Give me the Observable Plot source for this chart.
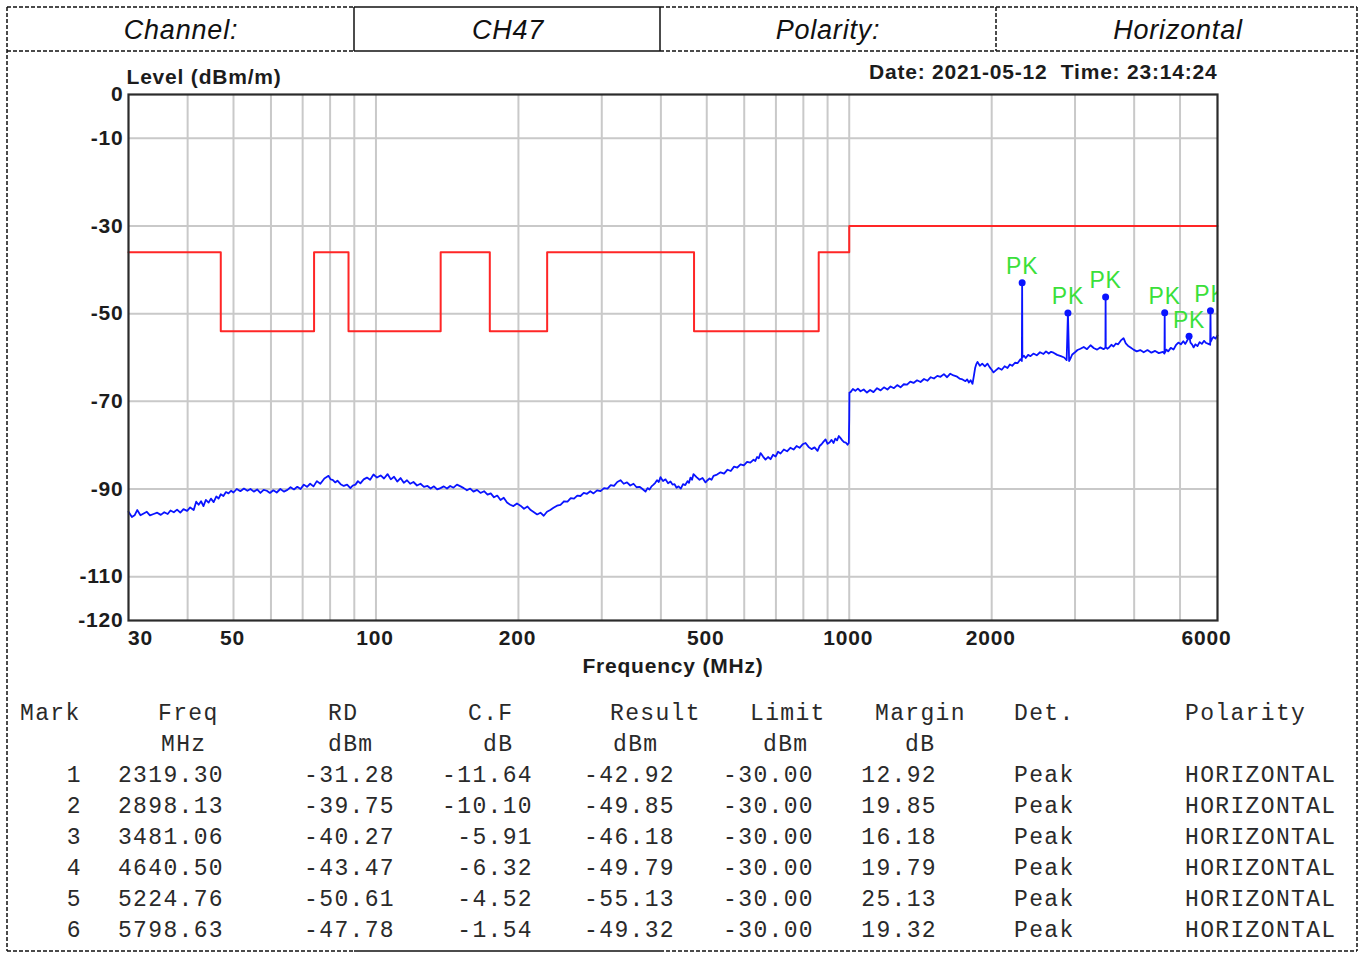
<!DOCTYPE html>
<html><head><meta charset="utf-8">
<script src="https://cdn.jsdelivr.net/npm/d3@7"></script>
<script src="https://cdn.jsdelivr.net/npm/@observablehq/plot@0.6"></script>
<style>
html,body{margin:0;padding:0;overflow:hidden;background:#fff;}
#page{position:relative;width:1362px;height:956px;overflow:hidden;background:#fff;}
#chart{position:absolute;left:0;top:0;}
#deco{position:absolute;left:0;top:0;}
</style></head>
<body><div id="page"><div id="chart"></div><svg id="deco" width="1362" height="956"></svg></div>
<script>
// ---------- data ----------
const headerCells = ["Channel:", "CH47", "Polarity:", "Horizontal"];
const chartTitleY = "Level (dBm/m)";
const chartTitleX = "Frequency (MHz)";
const chartStamp = "Date: 2021-05-12\u00a0 Time: 23:14:24";

const xTickLabels = [30, 50, 100, 200, 500, 1000, 2000, 6000];
const xGrid = [40, 50, 60, 70, 80, 90, 100, 200, 300, 400, 500, 600, 700, 800, 900, 1000, 2000, 3000, 4000, 5000];
const yTickLabels = [0, -10, -30, -50, -70, -90, -110, -120];
const yGrid = [-10, -30, -50, -70, -90, -110];

const limitFreq  = [30, 47, 74, 87.5, 137, 174, 230, 470, 862, 1000, 6000];
const limitLevel = [-36, -54, -36, -54, -36, -54, -36, -54, -36, -30, -30];

// measured trace, [frequency MHz, level dBm/m]
const tracePoints = [
  [30,-95.2],[30.5,-96.4],[30.9,-96.0],[31.3,-94.8],[31.8,-96.0],[32.3,-95.6],[32.8,-95.2],[33.3,-96.0],[33.9,-95.7],[34.5,-95.4],
  [35.1,-95.9],[35.7,-95.3],[36.3,-95.7],[36.8,-94.9],[37.4,-95.3],[38.0,-94.7],[38.6,-95.4],[39.2,-94.6],[39.9,-95.0],[40.5,-94.2],
  [41.2,-94.8],[41.7,-92.9],[42.2,-93.6],[42.7,-92.8],[43.2,-93.9],[43.7,-92.5],[44.3,-93.1],[44.8,-92.2],[45.4,-93.0],[46.0,-91.7],
  [46.5,-92.2],[47.0,-91.2],[47.6,-91.6],[48.2,-90.7],[48.8,-91.0],[49.4,-90.4],[50.0,-90.8],[50.8,-90.0],[51.7,-90.5],[52.6,-89.9],
  [53.5,-90.4],[54.3,-90.0],[55.2,-90.6],[56.1,-90.1],[57.0,-90.9],[57.9,-90.2],[58.8,-90.4],[59.7,-90.9],[60.7,-90.3],[61.7,-90.8],
  [62.8,-90.0],[63.9,-90.6],[65.0,-90.2],[66.0,-89.6],[67.1,-90.1],[68.2,-89.5],[69.3,-90.0],[70.4,-89.0],[71.5,-89.5],[72.6,-88.8],
  [73.8,-89.4],[75.0,-88.2],[76.3,-88.8],[77.8,-87.6],[79.4,-87.0],[80.2,-87.8],[81.0,-87.9],[82.0,-88.5],[82.9,-88.1],[84.2,-88.9],
  [85.5,-89.3],[86.9,-89.0],[88.3,-89.8],[89.4,-89.2],[90.5,-89.0],[91.6,-88.2],[92.7,-88.7],[94.2,-87.8],[95.7,-87.4],[97.2,-87.9],
  [98.8,-86.7],[100.5,-87.4],[102.3,-86.9],[104.0,-87.6],[105.8,-86.6],[107.5,-87.8],[109.2,-87.2],[110.9,-88.3],[112.7,-87.5],[114.5,-88.6],
  [116.3,-88.0],[118.1,-88.8],[120.0,-88.4],[122.1,-89.2],[124.2,-88.8],[126.3,-89.5],[128.5,-89.3],[130.5,-89.9],[132.6,-89.4],[134.7,-90.1],
  [136.9,-89.8],[139.1,-89.4],[141.3,-89.9],[143.5,-89.3],[145.8,-89.7],[148.3,-89.0],[150.9,-89.4],[153.3,-89.8],[155.7,-90.3],[158.2,-89.9],
  [160.7,-90.6],[163.5,-90.2],[166.3,-90.9],[169.2,-90.5],[172.1,-91.3],[174.8,-91.0],[177.6,-91.9],[180.4,-91.5],[183.3,-92.5],[186.2,-92.0],
  [189.2,-93.1],[192.2,-93.6],[195.2,-93.9],[198.6,-93.3],[202.0,-93.8],[205.5,-94.5],[209.0,-94.0],[212.3,-94.8],[215.7,-95.3],[219.1,-95.8],
  [222.6,-95.4],[226.2,-96.1],[229.8,-95.2],[233.5,-94.8],[237.2,-94.3],[241.3,-93.8],[245.4,-93.6],[249.6,-92.8],[253.9,-92.9],[258.0,-92.1],
  [262.1,-92.2],[266.3,-91.5],[270.5,-91.6],[274.8,-90.9],[279.2,-91.1],[283.7,-90.5],[288.2,-91.0],[293.2,-90.3],[298.2,-90.5],[303.3,-89.8],
  [308.5,-89.9],[313.4,-89.1],[318.4,-89.3],[323.5,-88.4],[328.6,-88.0],[333.8,-88.8],[339.2,-88.5],[344.6,-89.2],[350.1,-88.8],[355.3,-89.6],
  [360.5,-89.5],[365.8,-90.0],[371.2,-90.6],[374.8,-89.8],[378.5,-90.1],[382.2,-89.4],[385.9,-89.0],[389.2,-88.6],[392.5,-88.0],[395.9,-88.4],
  [399.3,-87.3],[404.2,-88.2],[409.2,-87.8],[414.2,-88.7],[419.2,-88.3],[423.3,-89.0],[427.5,-88.9],[431.7,-89.7],[435.9,-89.4],[440.7,-89.9],
  [445.5,-88.9],[450.4,-89.1],[455.3,-88.2],[458.6,-88.6],[462.0,-87.4],[465.4,-87.9],[468.8,-86.6],[475.7,-87.3],[482.7,-87.9],[489.8,-87.5],
  [497.0,-88.5],[501.9,-88.0],[506.8,-87.6],[511.7,-87.9],[516.7,-87.0],[525.6,-86.7],[534.7,-86.2],[543.9,-86.5],[553.2,-85.6],[562.0,-85.9],
  [571.0,-84.9],[580.2,-85.1],[589.4,-84.4],[598.8,-84.6],[608.4,-83.8],[618.1,-84.0],[627.9,-83.3],[633.2,-83.6],[638.6,-82.7],[644.1,-83.0],
  [649.6,-81.8],[657.5,-82.6],[665.5,-83.3],[673.7,-82.7],[682.0,-83.2],[690.3,-82.2],[698.8,-82.6],[707.3,-81.5],[716.0,-81.9],[727.5,-81.0],
  [739.1,-81.4],[750.9,-80.6],[762.8,-81.0],[774.0,-80.2],[785.4,-80.6],[797.0,-79.8],[808.6,-79.5],[820.5,-80.4],[832.5,-80.9],[844.8,-80.5],
  [857.2,-81.3],[865.6,-80.2],[874.0,-79.8],[882.6,-79.2],[891.2,-78.7],[899.9,-79.7],[908.7,-79.4],[917.6,-78.8],[926.6,-79.5],[934.5,-78.5],
  [942.5,-78.9],[950.6,-77.9],[958.7,-78.4],[966.8,-78.9],[975.0,-79.3],[983.4,-79.4],[991.9,-79.9],[998.0,-79.5],[1000,-74.0],[1001,-68.0],
  [1006.5,-67.9],[1018,-67.2],[1030,-67.6],[1043,-67.1],[1056.6,-67.7],[1073,-67.3],[1090,-68.0],[1107,-67.4],[1125.3,-67.9],[1145,-67.0],
  [1165,-67.5],[1184,-66.8],[1204.4,-67.3],[1223,-66.6],[1243,-67.0],[1263,-66.3],[1283.6,-66.8],[1304,-66.1],[1325,-66.2],[1346,-65.5],
  [1367.4,-65.8],[1391,-65.2],[1415,-65.6],[1439,-64.9],[1463.7,-65.3],[1487,-64.5],[1510,-64.8],[1535,-64.2],[1559.2,-64.4],[1585,-63.8],
  [1610,-64.5],[1635,-63.7],[1660.8,-64.1],[1685,-64.3],[1710,-64.8],[1735,-65.0],[1760.6,-65.4],[1775,-65.0],[1790,-65.7],[1805,-65.2],
  [1821.7,-66.0],[1835,-64.0],[1845,-62.4],[1856,-61.5],[1866.5,-61.0],[1888,-61.9],[1910,-61.4],[1935,-62.0],[1959.5,-61.4],[1980,-62.2],
  [2000,-62.8],[2018,-63.4],[2037.4,-63.0],[2068,-62.4],[2100,-62.8],[2130,-62.0],[2159.8,-62.4],[2185,-61.6],[2210,-61.9],[2240,-61.2],
  [2267.6,-61.3],[2300,-60.4],[2316,-60.8],[2319.3,-42.92],[2322,-60.0],[2340,-59.6],[2360,-60.1],[2388,-59.4],[2415.9,-59.7],[2450,-59.1],
  [2490,-59.5],[2530,-58.8],[2573.2,-59.2],[2605,-58.6],[2640,-59.1],[2670,-58.7],[2701.6,-58.9],[2750,-59.4],[2800,-59.7],[2845,-60.0],
  [2880,-60.6],[2898.13,-49.85],[2915,-60.8],[2940,-60.0],[2960,-59.3],[3000,-58.8],[3036.4,-58.3],[3080,-58.0],[3130,-57.6],[3180,-58.1],
  [3235.0,-57.2],[3290,-57.9],[3340,-58.2],[3390,-57.7],[3446.4,-58.1],[3478,-57.8],[3481.06,-46.18],[3484,-57.6],[3510,-58.0],[3540,-57.7],
  [3580,-57.1],[3618.3,-57.5],[3660,-56.8],[3700,-57.0],[3750,-56.1],[3798.6,-55.6],[3840,-56.8],[3880,-57.3],[3930,-57.7],[3987.9,-58.2],
  [4050,-58.6],[4120,-58.3],[4190,-58.8],[4267.8,-58.3],[4350,-58.9],[4430,-58.5],[4510,-59.0],[4600,-58.7],[4636,-59.1],[4640.5,-49.79],
  [4645,-58.9],[4680,-58.2],[4720,-58.6],[4780,-57.8],[4843.8,-58.2],[4900,-57.2],[4960,-56.6],[5020,-57.0],[5080,-56.3],[5130,-56.9],
  [5185.5,-56.0],[5205,-55.6],[5224.76,-55.13],[5245,-55.8],[5260,-56.6],[5300,-57.0],[5340,-57.7],[5390,-57.0],[5443.6,-57.4],[5500,-56.5],
  [5560,-56.9],[5620,-56.2],[5680,-56.7],[5740,-56.9],[5790,-57.1],[5798.63,-49.32],[5806,-56.4],[5840,-55.8],[5884,-55.3],[5940,-55.7],
  [6000,-55.0]
];

const markNo       = [1, 2, 3, 4, 5, 6];
const peakFreq     = [2319.30, 2898.13, 3481.06, 4640.50, 5224.76, 5798.63];
const peakRD       = [-31.28, -39.75, -40.27, -43.47, -50.61, -47.78];
const peakCF       = [-11.64, -10.10, -5.91, -6.32, -4.52, -1.54];
const peakResult   = [-42.92, -49.85, -46.18, -49.79, -55.13, -49.32];
const peakLimit    = [-30.00, -30.00, -30.00, -30.00, -30.00, -30.00];
const peakMargin   = [12.92, 19.85, 16.18, 19.79, 25.13, 19.32];
const peakDet      = ["Peak", "Peak", "Peak", "Peak", "Peak", "Peak"];
const peakPolarity = ["HORIZONTAL", "HORIZONTAL", "HORIZONTAL", "HORIZONTAL", "HORIZONTAL", "HORIZONTAL"];
const peakLabel = "PK";
const tableHeads = ["Mark", "Freq", "RD", "C.F", "Result", "Limit", "Margin", "Det.", "Polarity"];
const tableUnits = ["", "MHz", "dBm", "dB", "dBm", "dBm", "dB", "", ""];

// ---------- chart ----------
const trace = tracePoints.map(([f, v]) => ({f, v}));
const limit = limitFreq.map((f, i) => ({f, v: limitLevel[i]}));
const peaks = peakFreq.map((f, i) => ({f, v: peakResult[i]}));

const sans = "'Liberation Sans', Arial, sans-serif";
const txt = {fontFamily: sans, fontWeight: "bold", fontSize: 21, fill: "#1c1c1c", lineAnchor: "middle"};

const plot = Plot.plot({
  width: 1362, height: 700,
  marginLeft: 128, marginRight: 145, marginTop: 94, marginBottom: 80,
  x: {type: "log", domain: [30, 6000], axis: null},
  y: {domain: [-120, 0], axis: null},
  style: {background: "transparent", overflow: "visible", letterSpacing: "0.8px", fontFamily: sans},
  marks: [
    Plot.ruleX(xGrid, {x: d => d, stroke: "#c9c9c9", strokeWidth: 2}),
    Plot.ruleY(yGrid, {y: d => d, stroke: "#c9c9c9", strokeWidth: 2}),
    Plot.line(limit, {x: "f", y: "v", curve: "step-after", stroke: "#ff2626", strokeWidth: 2}),
    Plot.line(trace, {x: "f", y: "v", stroke: "#0a14ff", strokeWidth: 1.8}),
    Plot.dot(peaks, {x: "f", y: "v", r: 3.5, fill: "#0a14ff", stroke: "none"}),
    Plot.text(peaks, {x: "f", y: "v", text: () => peakLabel, dy: -16, fill: "#3ae03a", fontSize: 23, fontFamily: sans, lineAnchor: "middle", clip: true}),
    Plot.frame({stroke: "#2b2b2b", strokeWidth: 2.2}),
    Plot.text(yTickLabels, {y: d => d, text: d => String(d), frameAnchor: "left", textAnchor: "end", dx: -5, ...txt}),
    Plot.text(xTickLabels.slice(0, 1), {x: d => d, text: d => String(d), frameAnchor: "bottom", dy: 18, dx: 12, ...txt}),
    Plot.text(xTickLabels.slice(1, -1), {x: d => d, text: d => String(d), frameAnchor: "bottom", dy: 18, dx: -1, ...txt}),
    Plot.text(xTickLabels.slice(-1), {x: d => d, text: d => String(d), frameAnchor: "bottom", dy: 18, dx: -11, ...txt}),
    Plot.text([chartTitleY], {text: d => d, frameAnchor: "top-left", textAnchor: "start", dx: -2, dy: -17, ...txt}),
    Plot.text([chartStamp], {text: d => d, frameAnchor: "top-right", textAnchor: "end", dy: -22, ...txt}),
    Plot.text([chartTitleX], {text: d => d, frameAnchor: "bottom", dy: 46, ...txt})
  ]
});
document.getElementById("chart").appendChild(plot);

// ---------- header boxes & table ----------
const deco = d3.select("#deco");
function seg(x1, y1, x2, y2, dashed) {
  deco.append("line").attr("x1", x1).attr("y1", y1).attr("x2", x2).attr("y2", y2)
    .attr("stroke", "#111").attr("stroke-width", 1.5)
    .attr("stroke-dasharray", dashed ? "4,2" : null);
}
seg(7, 7, 354, 7, true); seg(660, 7, 1357, 7, true);
seg(7, 51, 354, 51, true); seg(660, 51, 1357, 51, true);
seg(7, 951, 354, 951, true); seg(660, 951, 1357, 951, true);
seg(7, 7, 7, 951, true); seg(1357, 7, 1357, 951, true);
seg(996, 7, 996, 51, true);
seg(354, 7, 660, 7, false); seg(354, 51, 660, 51, false);
seg(354, 7, 354, 51, false); seg(660, 7, 660, 51, false);
seg(354, 951, 660, 951, false);

const cellCenters = [181, 508, 828, 1178];
headerCells.forEach((t, i) => {
  deco.append("text").attr("x", cellCenters[i]).attr("y", 39).attr("text-anchor", "middle")
    .attr("font-family", sans).attr("font-style", "italic").attr("font-size", 27)
    .attr("letter-spacing", "0.8px").attr("fill", "#111").text(t);
});

const mono = "'Liberation Mono', 'DejaVu Sans Mono', monospace";
function mtext(x, y, t, anchor) {
  deco.append("text").attr("x", x).attr("y", y).attr("text-anchor", anchor)
    .attr("font-family", mono).attr("font-size", 23).attr("letter-spacing", "1.35px")
    .attr("fill", "#2a2a2a").text(t);
}
const headX = [20, 158, 328, 468, 610, 750, 875, 1014, 1185];
const unitX = [0, 161, 328, 483, 613, 763, 905, 0, 0];
tableHeads.forEach((t, i) => mtext(headX[i], 720, t, "start"));
tableUnits.forEach((t, i) => { if (t) mtext(unitX[i], 751, t, "start"); });
const endX = [82, 224, 395, 533, 675, 814, 937];
markNo.forEach((m, r) => {
  const y = 782 + 31 * r;
  const cols = [String(m), peakFreq[r].toFixed(2), peakRD[r].toFixed(2), peakCF[r].toFixed(2),
    peakResult[r].toFixed(2), peakLimit[r].toFixed(2), peakMargin[r].toFixed(2)];
  cols.forEach((t, c) => mtext(endX[c], y, t, "end"));
  mtext(1014, y, peakDet[r], "start");
  mtext(1185, y, peakPolarity[r], "start");
});
</script></body></html>
